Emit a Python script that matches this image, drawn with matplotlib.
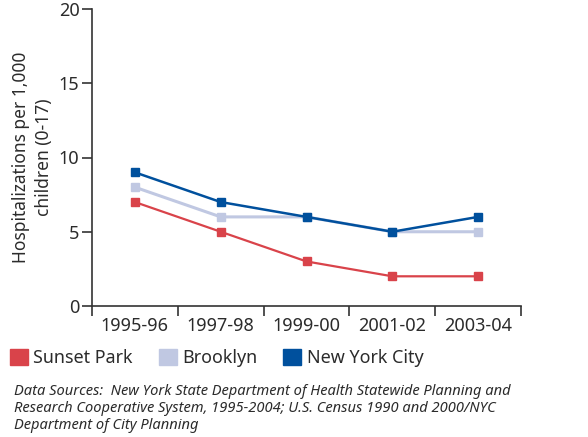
import matplotlib.pyplot as plt
from matplotlib.patches import Patch

# Data
periods = ['1995-96', '1997-98', '1999-00', '2001-02', '2003-04']
sunset_park = [7, 5, 3, 2, 2]
brooklyn = [8, 6, 6, 5, 5]
nyc = [9, 7, 6, 5, 6]

RED = '#d9434a'
LIGHT = '#c0c8e2'
BLUE = '#00509d'
TXT = '#2b2b2b'

plt.rcParams['font.family'] = ['Noto Sans', 'DejaVu Sans']

fig = plt.figure(figsize=(5.88, 4.37), dpi=100)
ax = fig.add_axes([92 / 588, 1 - 306 / 437, (521 - 92) / 588, (306 - 9) / 437])

x = list(range(len(periods)))
ax.plot(x, sunset_park, color=RED, lw=1.6, marker='s', ms=6, zorder=3)
ax.plot(x, brooklyn, color=LIGHT, lw=2.2, marker='s', ms=6, zorder=2)
ax.plot(x, nyc, color=BLUE, lw=1.8, marker='s', ms=6, zorder=4)

ax.set_xlim(-0.5, len(periods) - 0.5)
ax.set_ylim(0, 20)
ax.set_yticks([0, 5, 10, 15, 20])
ax.set_xticks([i - 0.5 for i in range(len(periods) + 1)])
ax.set_xticklabels([])
ax.set_xticks(x, minor=True)
ax.set_xticklabels(periods, minor=True)
ax.tick_params(axis='x', which='minor', length=0, pad=8, labelsize=13, colors=TXT)
ax.tick_params(axis='x', which='major', length=7, width=1.2, color='#333333')
ax.tick_params(axis='y', length=7, width=1.2, color='#333333', labelsize=13,
               labelcolor=TXT, pad=2)

for s in ['top', 'right']:
    ax.spines[s].set_visible(False)
for s in ['left', 'bottom']:
    ax.spines[s].set_color('#333333')
    ax.spines[s].set_linewidth(1.2)

ax.set_ylabel('Hospitalizations per 1,000\nchildren (0-17)', fontsize=12.5,
              color=TXT, labelpad=4, linespacing=1.35)

handles = [Patch(color=RED), Patch(color=LIGHT), Patch(color=BLUE)]
fig.legend(handles, ['Sunset Park', 'Brooklyn', 'New York City'], ncol=3,
           loc='center left', bbox_to_anchor=(10 / 588, 1 - 358 / 437), frameon=False,
           handlelength=1.0, handleheight=1.0, handletextpad=0.3,
           columnspacing=1.45, fontsize=12.9, labelcolor=TXT, borderaxespad=0,
           borderpad=0)

fig.text(14 / 588, 1 - 384 / 437,
         'Data Sources:  New York State Department of Health Statewide Planning and\n'
         'Research Cooperative System, 1995-2004; U.S. Census 1990 and 2000/NYC\n'
         'Department of City Planning',
         fontsize=10.55, style='italic', color=TXT, va='top', ha='left',
         linespacing=1.2)

fig.savefig('out.png', dpi=100)
